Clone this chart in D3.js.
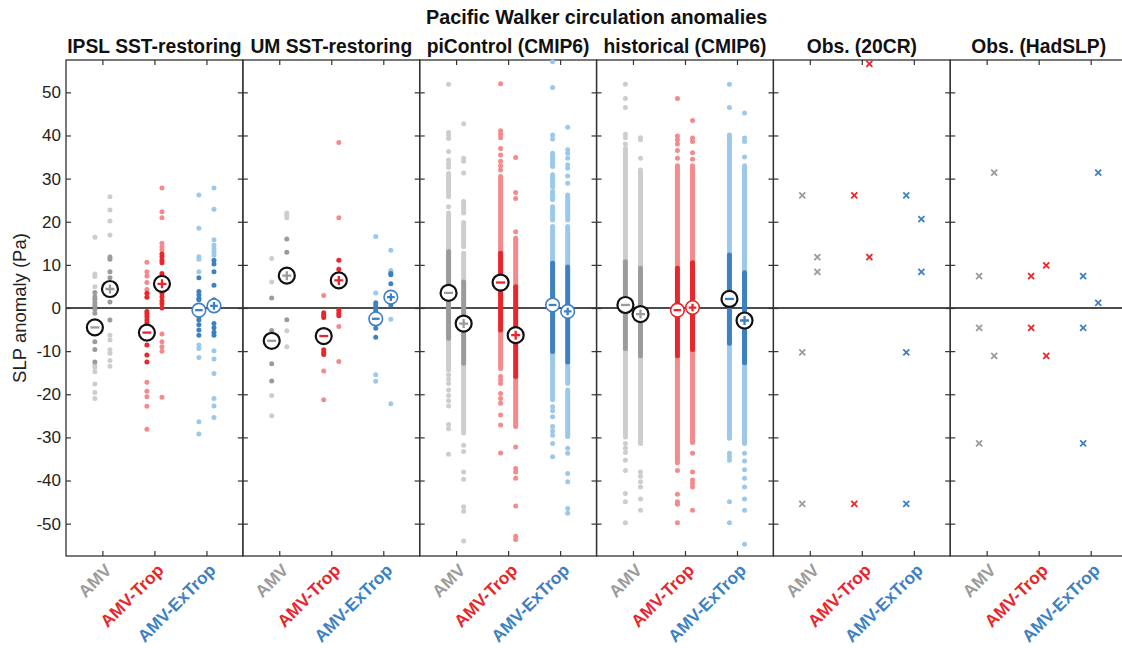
<!DOCTYPE html>
<html><head><meta charset="utf-8">
<script src="https://cdn.jsdelivr.net/npm/d3@7"></script>
<style>body{margin:0;background:#fff} svg{display:block;font-family:"Liberation Sans",Arial,Helvetica,sans-serif}</style>
</head><body><svg id="c" width="1122" height="648"></svg>
<script>
// ---------------- DATA ----------------
const chartTitle = "Pacific Walker circulation anomalies";
const panelTitles = ["IPSL SST-restoring", "UM SST-restoring", "piControl (CMIP6)", "historical (CMIP6)", "Obs. (20CR)", "Obs. (HadSLP)"];
const categories = ["AMV", "AMV-Trop", "AMV-ExTrop"];
const yTicks = [-50, -40, -30, -20, -10, 0, 10, 20, 30, 40, 50];
const yLabel = "SLP anomaly (Pa)";
// column order in each panel: AMV(-), AMV(+), AMV-Trop(-), AMV-Trop(+), AMV-ExTrop(-), AMV-ExTrop(+)

// IPSL SST-restoring members
const ipslDots = [
  [16.4, 7.9, 7.3, 4.9, 3.6, 2.6, 2.0, 1.2, 0.6, -0.3, -1.2, -7.8, -9.6, -12.5, -13.2, -13.8, -14.8, -17.6, -19.6, -21.0],
  [25.8, 22.7, 20.2, 16.9, 11.8, 11.3, 8.4, 7.0, 1.4, -2.8, -6.3, -7.4, -9.7, -10.5, -12.2, -13.5],
  [10.6, 8.4, 7.4, 5.9, 4.3, 3.4, 2.5, -0.8, -1.4, -2.0, -2.8, -3.5, -4.7, -8.6, -10.9, -12.5, -17.2, -19.3, -20.6, -22.8, -28.1],
  [27.8, 22.3, 20.9, 15.0, 14.2, 13.5, 12.5, 11.9, 11.1, 10.5, 8.0, 7.0, 3.4, 2.6, 1.7, 1.0, 0.0, -6.0, -7.8, -9.0, -10.0, -20.7],
  [26.2, 18.5, 11.9, 11.3, 8.4, 7.0, 3.8, 3.0, 2.2, 1.9, -2.0, -2.8, -3.9, -5.1, -6.3, -8.6, -9.4, -11.5, -26.4, -29.2],
  [27.8, 22.9, 15.8, 14.6, 13.8, 13.1, 12.3, 11.1, 10.2, 8.4, 5.3, 1.9, -3.6, -4.6, -5.6, -6.3, -9.9, -11.8, -15.2, -21.0, -22.7, -25.4]
];
const ipslCore = [[-12.6, 3.7], [-3, 12], [-12.6, 3.5], [-0.2, 12.6], [-6.5, 7.1], [-6.5, 11.2]];
const ipslMean = [-4.5, 4.4, -5.7, 5.6, -0.5, 0.5];
const ipslSig = [1, 1, 1, 1, 0, 0];

// UM SST-restoring members
const umDots = [
  [11.5, 6.0, 2.3, -5.2, -12.9, -16.9, -20.3, -25.0],
  [22.0, 21.5, 20.9, 16.0, 12.9, -2.7, -5.3, -9.0],
  [2.9, -1.1, -1.7, -2.2, -9.7, -10.3, -10.8, -14.6, -21.3],
  [38.4, 20.9, 11.1, 9.0, -0.5, -1.2, -1.8, -4.3, -12.4],
  [16.6, 3.5, 1.2, 0.6, -0.1, -0.8, -4.7, -6.8, -15.5, -17.0],
  [13.4, 8.7, 8.4, 8.0, 7.7, 5.6, 0.7, -2.6, -22.2]
];
const umCore = [[-17, 2.5], [-3, 16.2], [-11, -1], [-2, 11.2], [-7, 1.3], [0.5, 8.1]];
const umMean = [-7.6, 7.5, -6.5, 6.4, -2.5, 2.5];
const umSig = [1, 1, 1, 1, 0, 0];

// piControl (CMIP6): isolated members and continuous runs of members
const piDots = [
  [51.9, 40.7, 40.1, 39.3, 36.3, 34.3, 33.4, 32.6, 23.5, -15.5, -16.5, -17.5, -19.0, -20.3, -21.5, -22.7, -27.0, -28.0, -33.9],
  [42.7, 34.7, 34.0, 31.3, -31.8, -33.3, -38.0, -39.7, -46.1, -47.1, -54.0],
  [52.0, 41.1, 40.3, 39.5, 37.0, 35.5, 34.0, 33.0, 32.0, -15.9, -16.7, -17.5, -19.8, -21.0, -22.1, -24.8, -27.1, -33.6],
  [34.9, 26.8, 25.4, 17.7, -32.2, -37.2, -38.0, -39.5, -45.9, -52.9, -53.7],
  [57.1, 51.1, 40.1, 39.2, -22.9, -23.8, -25.2, -27.5, -28.5, -29.5, -31.4, -34.5],
  [41.9, 36.7, 35.9, 34.7, 33.2, 32.4, 30.6, 28.9, -32.5, -33.7, -38.4, -40.3, -46.5, -47.6]
];
const piRuns = [
  [[25.8, 31.2], [-14.4, 22.0]],
  [[22.0, 24.7], [14.2, 19.8], [-29.0, 12.7]],
  [[-14.0, 30.5]],
  [[-27.5, 16.2]],
  [[32.8, 35.9], [28.1, 30.9], [25.1, 27.0], [20.4, 23.5], [-21.3, 18.9]],
  [[20.4, 26.2], [-17.5, 18.9], [-29.8, -19.0]]
];
const piCore = [[-7, 13.1], [-12.8, 6], [-5.1, 12.7], [-15.9, 4.9], [-10.1, 10.4], [-12.5, 9.5]];
const piMean = [3.5, -3.6, 5.9, -6.3, 0.7, -0.8];
const piSig = [1, 1, 1, 1, 0, 0];

// historical (CMIP6)
const histDots = [
  [51.9, 48.6, 46.5, 40.3, 39.5, 38.0, -31.4, -32.5, -33.5, -35.3, -37.7, -43.0, -44.9, -49.8],
  [39.5, 39.0, 34.7, -38.0, -39.0, -40.3, -41.5, -44.3, -46.9],
  [48.6, 39.9, 39.0, 38.0, 36.5, 34.7, -37.7, -43.2, -44.9, -45.5, -49.8],
  [43.5, 39.4, 38.6, 36.0, 34.5, -33.7, -38.0, -39.9, -40.7, -41.5, -46.9],
  [51.9, 46.5, -33.7, -34.5, -35.3, -44.9, -49.8],
  [45.2, 39.4, 38.6, 35.0, -33.7, -35.5, -37.5, -39.5, -41.5, -44.3, -46.9, -54.8]
];
const histRuns = [
  [[-29.9, 37.0]],
  [[-31.4, 32.0]],
  [[-35.9, 33.0]],
  [[-31.2, 33.0]],
  [[-30.2, 40.1]],
  [[-31.4, 33.0]]
];
const histCore = [[-9.4, 10.7], [-11.1, 9.2], [-11.1, 9.2], [-9.6, 10.5], [-8.2, 12.3], [-12.7, 8.2]];
const histMean = [0.7, -1.4, -0.5, 0.1, 2.1, -2.9];
const histSig = [1, 1, 0, 0, 1, 1];

// Observations
const obs20crVals = [[26.1, -10.3, -45.4], [11.8, 8.4], [26.1, -45.4], [56.6, 11.8], [26.1, -10.3, -45.4], [20.6, 8.4]];
const obsHadVals = [[7.4, -4.6, -31.4], [31.4, -11.1], [7.4, -4.6], [9.9, -11.1], [7.4, -4.6, -31.4], [31.4, 1.2]];

// ---------------- STYLE ----------------
const lightCol = ["#cdcdcd", "#f58a8d", "#9cc8ea"];
const darkCol = ["#9b9b9b", "#e8262c", "#3d81c2"];
const labelCol = ["#9b9b9b", "#e8262c", "#3d81c2"];

const panels = [
  {dots: ipslDots, runs: null, core: ipslCore, mean: ipslMean, sig: ipslSig},
  {dots: umDots, runs: null, core: umCore, mean: umMean, sig: umSig},
  {dots: piDots, runs: piRuns, core: piCore, mean: piMean, sig: piSig},
  {dots: histDots, runs: histRuns, core: histCore, mean: histMean, sig: histSig},
  {obs: obs20crVals},
  {obs: obsHadVals}
];

const svg = d3.select("#c");
const topY = 60, bottomY = 556, left0 = 66, pw = 176.85;
const y = d3.scaleLinear().domain([-57.5, 57.5]).range([bottomY, topY]);
const off = 0.145;

svg.append("text").attr("x", left0 + pw * 3).attr("y", 24).attr("text-anchor", "middle")
  .attr("font-size", 19.8).attr("font-weight", "bold").attr("fill", "#111").text(chartTitle);

svg.append("text").attr("transform", `translate(26,${y(0)}) rotate(-90)`).attr("text-anchor", "middle")
  .attr("font-size", 18.5).attr("fill", "#222").text(yLabel);

panels.forEach((p, i) => {
  const x0 = left0 + i * pw;
  const x = d3.scaleLinear().domain([0.3, 3.7]).range([x0, x0 + pw]);
  const g = svg.append("g");

  g.append("text").attr("x", x0 + pw / 2).attr("y", 53).attr("text-anchor", "middle")
    .attr("font-size", 19.3).attr("font-weight", "bold").attr("fill", "#111").text(panelTitles[i]);

  // zero line
  g.append("line").attr("x1", x0).attr("x2", x0 + pw).attr("y1", y(0)).attr("y2", y(0))
    .attr("stroke", "#111").attr("stroke-width", 1.5);

  // axes
  const la = d3.axisLeft(y).tickValues(yTicks).tickSize(-5).tickPadding(5)
    .tickFormat(i > 0 ? "" : d => String(d));
  const gl = g.append("g").attr("transform", `translate(${x0},0)`).call(la);
  const ra = d3.axisRight(y).tickValues(yTicks).tickSize(-5).tickFormat("");
  g.append("g").attr("transform", `translate(${x0 + pw},0)`).call(ra);
  const ta = d3.axisTop(x).tickValues([1, 2, 3]).tickSize(-5).tickFormat("");
  g.append("g").attr("transform", `translate(0,${topY})`).call(ta);
  const ba = d3.axisBottom(x).tickValues([1, 2, 3]).tickSize(-5).tickFormat("");
  g.append("g").attr("transform", `translate(0,${bottomY})`).call(ba);
  g.selectAll(".domain").remove();
  g.selectAll(".tick line").attr("stroke", "#333").attr("stroke-width", 1.2);
  gl.selectAll("text").attr("font-size", 17).attr("fill", "#222").attr("font-family", '"Liberation Sans",Arial,sans-serif');

  g.append("rect").attr("x", x0).attr("y", topY).attr("width", pw).attr("height", bottomY - topY)
    .attr("fill", "none").attr("stroke", "#333").attr("stroke-width", 1.3);

  // category labels
  categories.forEach((c, k) => {
    g.append("text").attr("transform", `translate(${x(k + 1) + 7},${bottomY + 12}) rotate(-45)`)
      .attr("text-anchor", "end").attr("dominant-baseline", "middle")
      .attr("font-size", 17.3).attr("font-weight", "bold").attr("fill", labelCol[k]).text(c);
  });

  for (let j = 0; j < 6; j++) {
    const cat = Math.floor(j / 2), sgn = j % 2 ? 1 : -1;
    const cx = x(cat + 1 + sgn * off);
    if (p.obs) {
      p.obs[j].forEach(v => {
        const s = 3;
        g.append("path").attr("d", `M${cx - s},${y(v) - s}L${cx + s},${y(v) + s}M${cx - s},${y(v) + s}L${cx + s},${y(v) - s}`)
          .attr("stroke", darkCol[cat]).attr("stroke-width", 1.8).attr("fill", "none");
      });
      continue;
    }
    const [clo, chi] = p.core[j];
    const inCore = v => v >= clo && v <= chi;
    // continuous runs
    if (p.runs) {
      p.runs[j].forEach(([lo, hi]) => {
        const segs = [];
        if (lo < clo) segs.push([lo, Math.min(hi, clo), lightCol[cat]]);
        if (hi > chi) segs.push([Math.max(lo, chi), hi, lightCol[cat]]);
        if (hi > clo && lo < chi) segs.push([Math.max(lo, clo), Math.min(hi, chi), darkCol[cat]]);
        segs.forEach(([a, b, col]) => {
          g.append("line").attr("x1", cx).attr("x2", cx).attr("y1", y(a)).attr("y2", y(b))
            .attr("stroke", col).attr("stroke-width", 5).attr("stroke-linecap", "round");
        });
      });
    }
    const sorted = p.dots[j].slice().sort((a, b) => inCore(a) - inCore(b));
    g.selectAll(null).data(sorted).enter().append("circle")
      .attr("cx", cx).attr("cy", d => y(d)).attr("r", 2.5)
      .attr("fill", d => inCore(d) ? darkCol[cat] : lightCol[cat]);
  }
  // means
  if (!p.obs) {
    for (let j = 0; j < 6; j++) {
      const cat = Math.floor(j / 2), sgn = j % 2 ? 1 : -1;
      const cx = x(cat + 1 + sgn * off), cy = y(p.mean[j]);
      const sig = p.sig[j];
      const r = sig ? 8 : 6.8;
      g.append("circle").attr("cx", cx).attr("cy", cy).attr("r", r).attr("fill", "#fff")
        .attr("stroke", sig ? "#111" : darkCol[cat]).attr("stroke-width", sig ? 2.2 : 1.6);
      const h = sig ? 4.5 : 3.8;
      let d = `M${cx - h},${cy}L${cx + h},${cy}`;
      if (sgn > 0) d += `M${cx},${cy - h}L${cx},${cy + h}`;
      g.append("path").attr("d", d).attr("stroke", darkCol[cat]).attr("stroke-width", 2.3).attr("fill", "none");
    }
  }
});
</script>
</body></html>
